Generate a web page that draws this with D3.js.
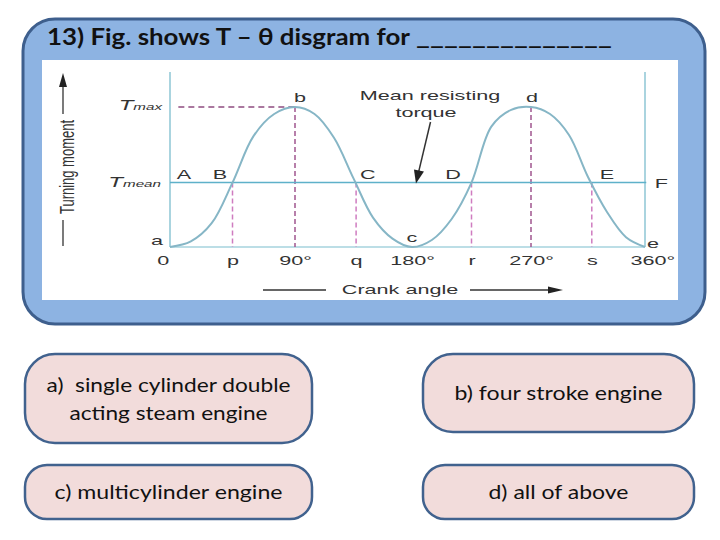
<!DOCTYPE html>
<html>
<head>
<meta charset="utf-8">
<script src="https://cdn.jsdelivr.net/npm/d3@7"></script>
<style>
  body { margin: 0; background: #fff; }
  .lbl { font-family: "Liberation Sans", Arial, sans-serif; fill: #333; }
  .q { font-family: Lato, "Open Sans", sans-serif; font-weight: bold; fill: #111; }
  .opt { font-family: Lato, "Open Sans", sans-serif; fill: #111; white-space: pre; }
</style>
</head>
<body>
<script>
// question text
var question = "13) Fig. shows T \u2013 \u03b8 disgram for";
var blank = "______________";
var optionLines = [ ["a)  single cylinder double", "acting steam engine"],
                    ["b) four stroke engine"],
                    ["c) multicylinder engine"],
                    ["d) all of above"] ];

// turning moment curve (fraction of Tmax)
var angles = [0,15,30,45,60,75,90,105,120,135,150,165,180,195,210,225,240,255,270,285,300,315,330,345,360];
var torque = [0,0.04,0.17,0.46,0.79,0.95,1,0.95,0.78,0.49,0.21,0.06,0,0.05,0.2,0.46,0.86,0.98,1,0.95,0.8,0.5,0.25,0.07,0];
var tMean = 0.46;

// crank angle ticks
var tickAngles = [0,45,90,137,180,225,270,318,360];
var tickLabels = ["0","p","90\u00b0","q","180\u00b0","r","270\u00b0","s","360\u00b0"];

// crossing points of the mean line and peak / trough points
var crossAngles = [45,137,225,318];
var peakAngles = [90,270];
var meanNames = ["A","B","C","D","E","F"];
var meanAngles = [10,36,146,211,330,373];
var pointNames = ["a","b","c","d","e"];
var pointAngles = [0,90,180,270,360];
var pointT = [0,1,0,1,0];

var width = 720, height = 540;

var svg = d3.select("body").append("svg")
  .attr("width", width)
  .attr("height", height);

/* slide frame */
svg.append("rect")
  .attr("x", 23).attr("y", 19)
  .attr("width", 682).attr("height", 305)
  .attr("rx", 32)
  .style("fill", "#8db3e2")
  .style("stroke", "#3e5f8d")
  .style("stroke-width", 3);

svg.append("rect")
  .attr("x", 42).attr("y", 60)
  .attr("width", 636).attr("height", 240)
  .style("fill", "#fff");

svg.append("text").attr("class", "q")
  .attr("x", 47).attr("y", 45)
  .attr("textLength", 363).attr("lengthAdjust", "spacingAndGlyphs")
  .style("font-size", "22px")
  .text(question);

svg.append("text").attr("class", "q")
  .attr("x", 416).attr("y", 45)
  .attr("textLength", 196).attr("lengthAdjust", "spacingAndGlyphs")
  .style("font-size", "22px")
  .text(blank);

// scales
var x = d3.scaleLinear()
  .domain([0, 90, 180, 270, 360])
  .range([170, 295, 412, 531, 645]);

var y = d3.scaleLinear()
  .domain([0, 1])
  .range([247, 107]);

var chart = svg.append("g");

function label(g, px, py, txt, size, anchor) {
  return g.append("text")
    .attr("class", "lbl")
    .attr("transform", "translate(" + px + "," + py + ") scale(1.6,1)")
    .attr("text-anchor", anchor || "middle")
    .style("font-size", size + "px")
    .text(txt);
}

/* frame lines */
chart.append("line")
  .attr("x1", x(0)).attr("x2", x(0))
  .attr("y1", 72).attr("y2", y(0))
  .style("stroke", "#8ec6d4").style("stroke-width", 1.5);
chart.append("line")
  .attr("x1", x(360)).attr("x2", x(360))
  .attr("y1", 72).attr("y2", y(0))
  .style("stroke", "#8ec6d4").style("stroke-width", 1.5);
chart.append("line")
  .attr("x1", x(0)).attr("x2", x(360))
  .attr("y1", y(0)).attr("y2", y(0))
  .style("stroke", "#a6d3de").style("stroke-width", 1.5);

/* dashed guides */
chart.append("line")
  .attr("x1", x(6)).attr("x2", x(90))
  .attr("y1", y(1)).attr("y2", y(1))
  .style("stroke", "#8e4b80").style("stroke-width", 1.5)
  .style("stroke-dasharray", "6,4");

chart.selectAll(".peakline")
  .data(peakAngles)
  .enter().append("line")
  .attr("x1", d => x(d)).attr("x2", d => x(d))
  .attr("y1", y(1)).attr("y2", y(0))
  .style("stroke", "#a0568f").style("stroke-width", 1.5)
  .style("stroke-dasharray", "5,3");

chart.selectAll(".crossline")
  .data(crossAngles)
  .enter().append("line")
  .attr("x1", d => x(d)).attr("x2", d => x(d))
  .attr("y1", y(tMean)).attr("y2", y(0))
  .style("stroke", "#cf7cc0").style("stroke-width", 1.5)
  .style("stroke-dasharray", "5,3");

/* mean line */
chart.append("line")
  .attr("x1", x(0)).attr("x2", x(361))
  .attr("y1", y(tMean)).attr("y2", y(tMean))
  .style("stroke", "#5eb1c9").style("stroke-width", 1.5);

/* turning moment curve */
var curveData = angles.map((a, i) => [a, torque[i]]);
chart.append("path")
  .datum(curveData)
  .attr("d", d3.line()
    .x(d => x(d[0]))
    .y(d => y(d[1]))
    .curve(d3.curveCatmullRom.alpha(0.5)))
  .style("fill", "none")
  .style("stroke", "#86b6c6")
  .style("stroke-width", 2);

/* crank angle ticks */
var xAxis = g => g
  .attr("transform", "translate(0,265)")
  .call(d3.axisBottom(x)
    .tickValues(tickAngles)
    .tickSize(0)
    .tickPadding(0)
    .tickFormat((d, i) => tickLabels[i]))
  .call(g => g.select(".domain").remove());

var ax = chart.append("g").call(xAxis);
ax.selectAll("text")
  .attr("class", "lbl")
  .attr("y", 0).attr("dy", 0)
  .attr("dx", (d, i) => i == 0 ? -4.5 : (i == tickAngles.length - 1 ? 4.5 : 0))
  .attr("transform", "scale(1.6,1)")
  .style("font-size", "13.5px")
  .style("font-family", "Liberation Sans, Arial, sans-serif");

/* labels on mean line */
meanNames.forEach(function(n, i) {
  var py = (n == "F") ? y(tMean) + 5 : y(tMean) - 4;
  label(chart, x(meanAngles[i]), py, n, 13.5);
});

/* labels on curve points */
var pdx = [-13, 5, 0, 1, 8], pdy = [-2, -5, -5, -5, 1];
pointNames.forEach(function(n, i) {
  label(chart, x(pointAngles[i]) + pdx[i], y(pointT[i]) + pdy[i], n, 13.5);
});

/* Tmax / Tmean */
var tmax = chart.append("text").attr("class", "lbl")
  .attr("transform", "translate(162," + (y(1) + 3) + ") scale(1.6,1)")
  .attr("text-anchor", "end")
  .style("font-style", "italic");
tmax.append("tspan").style("font-size", "15px").text("T");
tmax.append("tspan").style("font-size", "9.5px").text("max");

var tmean = chart.append("text").attr("class", "lbl")
  .attr("transform", "translate(161," + (y(tMean) + 4) + ") scale(1.6,1)")
  .attr("text-anchor", "end")
  .style("font-style", "italic");
tmean.append("tspan").style("font-size", "15px").text("T");
tmean.append("tspan").style("font-size", "9.5px").text("mean");

/* mean resisting torque note */
label(chart, 430, 100, "Mean resisting", 13.5);
label(chart, 426, 117, "torque", 13.5);

var tip = [x(183), y(tMean) + 1];
var tail = [x(194), 122];
chart.append("line")
  .attr("x1", tail[0]).attr("y1", tail[1])
  .attr("x2", tip[0] + 2.5).attr("y2", tip[1] - 11)
  .style("stroke", "#333").style("stroke-width", 1.5);
chart.append("path")
  .attr("d", d3.line()([[tip[0], tip[1]], [tip[0] - 2, tip[1] - 14], [tip[0] + 8, tip[1] - 12]]) + "Z")
  .style("fill", "#222");

/* axis titles */
chart.append("text").attr("class", "lbl")
  .attr("transform", "translate(67,167) scale(1.6,1) rotate(-90)")
  .attr("text-anchor", "middle")
  .attr("dominant-baseline", "central")
  .style("font-size", "13px")
  .text("Turning moment");
chart.append("line")
  .attr("x1", 63).attr("x2", 63).attr("y1", 246).attr("y2", 220)
  .style("stroke", "#333").style("stroke-width", 1.3);
chart.append("line")
  .attr("x1", 63).attr("x2", 63).attr("y1", 114).attr("y2", 84)
  .style("stroke", "#333").style("stroke-width", 1.3);
chart.append("path")
  .attr("d", d3.line()([[63, 73], [59, 87], [67, 87]]) + "Z")
  .style("fill", "#222");

label(chart, 400, 294, "Crank angle", 13.5);
chart.append("line")
  .attr("x1", 263).attr("x2", 326).attr("y1", 290).attr("y2", 290)
  .style("stroke", "#333").style("stroke-width", 1.3);
chart.append("line")
  .attr("x1", 470).attr("x2", 552).attr("y1", 290).attr("y2", 290)
  .style("stroke", "#333").style("stroke-width", 1.3);
chart.append("path")
  .attr("d", d3.line()([[563, 290], [548, 286.5], [548, 293.5]]) + "Z")
  .style("fill", "#222");

/* answer options */
var boxes = [ {x: 25, y: 354, w: 287, h: 89, r: 30},
              {x: 423, y: 354, w: 271, h: 78, r: 30},
              {x: 25, y: 465, w: 287, h: 54, r: 22},
              {x: 423, y: 465, w: 271, h: 54, r: 22} ];
var textWidths = [ [244, 198], [208], [228], [140] ];

var opt = svg.selectAll(".option")
  .data(optionLines)
  .enter().append("g")
  .attr("class", "option");

opt.append("rect")
  .attr("x", (d, i) => boxes[i].x)
  .attr("y", (d, i) => boxes[i].y)
  .attr("width", (d, i) => boxes[i].w)
  .attr("height", (d, i) => boxes[i].h)
  .attr("rx", (d, i) => boxes[i].r)
  .style("fill", "#f2dcdb")
  .style("stroke", "#41628e")
  .style("stroke-width", 2.5);

opt.each(function(lines, i) {
  var b = boxes[i];
  var cx = b.x + b.w / 2;
  var cy = b.y + b.h / 2;
  var lh = 28;
  var g = d3.select(this);
  lines.forEach(function(t, j) {
    g.append("text").attr("class", "opt")
      .attr("x", cx)
      .attr("y", cy + 7 + (j - (lines.length - 1) / 2) * lh)
      .attr("text-anchor", "middle")
      .attr("textLength", textWidths[i][j])
      .attr("lengthAdjust", "spacingAndGlyphs")
      .style("font-size", "20px")
      .text(t);
  });
});
</script>
</body>
</html>
